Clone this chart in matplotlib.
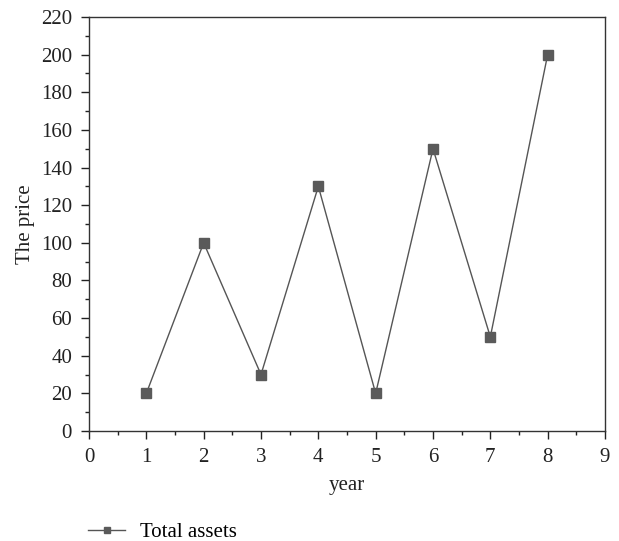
import matplotlib
matplotlib.use("Agg")
import matplotlib.pyplot as plt
from matplotlib.ticker import MultipleLocator

years = [1, 2, 3, 4, 5, 6, 7, 8]
price = [20, 100, 30, 130, 20, 150, 50, 200]
series_name = "Total assets"

plt.rcParams['font.family'] = ['Liberation Serif', 'DejaVu Serif']

FS = 15
fig = plt.figure(figsize=(6.19, 5.41), dpi=100)
ax = fig.add_axes([89/619, 1-431/541, (605-89)/619, (431-17)/541])

line, = ax.plot(years, price, color='#555555', lw=1.0, marker='s', ms=7,
                markerfacecolor='#5a5a5a', markeredgecolor='#5a5a5a', label=series_name)

ax.set_xlim(0, 9)
ax.set_ylim(0, 220)
ax.xaxis.set_major_locator(MultipleLocator(1))
ax.xaxis.set_minor_locator(MultipleLocator(0.5))
ax.yaxis.set_major_locator(MultipleLocator(20))
ax.yaxis.set_minor_locator(MultipleLocator(10))
ax.tick_params(which='both', direction='out', labelsize=FS, colors='#222222', width=1.0)
ax.tick_params(which='major', length=5.5)
ax.tick_params(which='minor', length=3)
ax.tick_params(axis='x', which='major', pad=7)
ax.tick_params(axis='y', which='major', pad=6.7)
for s in ax.spines.values():
    s.set_color('#333333')
    s.set_linewidth(1.0)

ax.set_xlabel("year", fontsize=FS, color='#222222', labelpad=6.5)
ax.set_ylabel("The price", fontsize=FS, color='#222222', labelpad=4)

fig.legend(handles=[line], labels=[series_name], loc='center left',
           bbox_to_anchor=(88/619, 1-532/541), frameon=False, fontsize=FS,
           borderpad=0, borderaxespad=0,
           handlelength=1.78, handletextpad=0.72, markerscale=0.6)

fig.savefig("out.png", dpi=100)
